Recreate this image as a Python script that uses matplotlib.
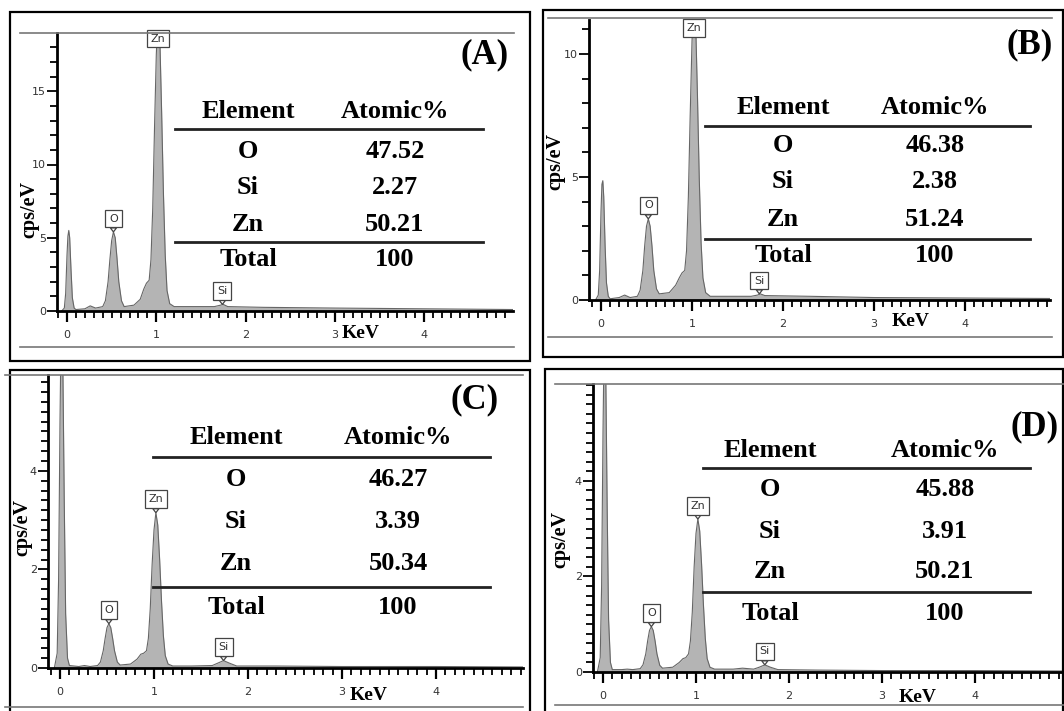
import numpy as np
import matplotlib
matplotlib.use('Agg')
import matplotlib.pyplot as plt
from matplotlib.patches import Rectangle
from matplotlib.lines import Line2D
from matplotlib.ticker import MultipleLocator, FixedLocator

W, H = 1064, 711

# spectra (keV, cps/eV)
a_kev = [-0.06, -0.03, -0.015, 0.0, 0.01, 0.02, 0.03, 0.045, 0.06, 0.08, 0.1, 0.2, 0.26, 0.32, 0.4,
         0.43, 0.46, 0.48, 0.5, 0.52, 0.54, 0.56, 0.58, 0.61, 0.64, 0.75, 0.82, 0.86, 0.89, 0.92,
         0.94, 0.96, 0.98, 1.0, 1.02, 1.04, 1.06, 1.08, 1.1, 1.12, 1.15, 1.2, 1.4, 1.65, 1.72, 1.75,
         1.8, 2.2, 3.0, 4.0, 5.0]
a_cps = [0, 0.2, 1.2, 3.8, 5.1, 5.5, 5.0, 2.8, 0.9, 0.2, 0.1, 0.15, 0.35, 0.2, 0.3,
         0.7, 2.0, 3.5, 4.8, 5.4, 5.0, 3.6, 2.0, 0.7, 0.3, 0.4, 0.8, 1.5, 1.9, 2.1,
         3.5, 7.0, 12.5, 17.5, 20.5, 18.5, 13.5, 8.0, 3.8, 1.4, 0.5, 0.3, 0.3, 0.3, 0.4, 0.45,
         0.3, 0.25, 0.2, 0.15, 0.1]

b_kev = [-0.06, -0.03, -0.015, 0.0, 0.01, 0.02, 0.03, 0.045, 0.06, 0.08, 0.1, 0.2, 0.26, 0.32, 0.4,
         0.43, 0.46, 0.48, 0.5, 0.52, 0.54, 0.56, 0.58, 0.61, 0.64, 0.75, 0.82, 0.86, 0.89, 0.92,
         0.94, 0.96, 0.98, 1.0, 1.02, 1.04, 1.06, 1.08, 1.1, 1.12, 1.15, 1.2, 1.4, 1.65, 1.72, 1.75,
         1.8, 2.3, 3.0, 4.0, 5.0]
b_cps = [0, 0.2, 1.2, 3.6, 4.7, 4.85, 4.2, 2.2, 0.7, 0.15, 0.05, 0.1, 0.2, 0.1, 0.15,
         0.4, 1.2, 2.2, 3.0, 3.3, 3.0, 2.2, 1.2, 0.45, 0.25, 0.3, 0.6, 0.9, 1.1, 1.2,
         2.0, 4.2, 7.5, 10.5, 12.5, 11.3, 8.3, 4.9, 2.3, 0.9, 0.3, 0.15, 0.15, 0.15, 0.2, 0.25,
         0.18, 0.15, 0.1, 0.08, 0.06]

c_kev = [-0.06, -0.03, -0.015, 0.0, 0.01, 0.02, 0.03, 0.045, 0.06, 0.08, 0.1, 0.2, 0.26, 0.32, 0.4,
         0.43, 0.46, 0.48, 0.5, 0.52, 0.54, 0.56, 0.58, 0.61, 0.64, 0.75, 0.82, 0.86, 0.89, 0.92,
         0.94, 0.96, 0.98, 1.0, 1.02, 1.04, 1.06, 1.08, 1.1, 1.12, 1.15, 1.2, 1.4, 1.62, 1.68, 1.74,
         1.8, 1.88, 2.3, 3.0, 4.0, 5.0]
c_cps = [0, 0.3, 1.8, 5.0, 6.6, 7.0, 6.2, 3.4, 1.1, 0.2, 0.05, 0.03, 0.05, 0.03, 0.05,
         0.12, 0.35, 0.6, 0.82, 0.9, 0.82, 0.6, 0.35, 0.12, 0.06, 0.08, 0.18, 0.28, 0.3, 0.35,
         0.6, 1.2, 2.1, 2.8, 3.15, 2.9, 2.2, 1.35, 0.65, 0.25, 0.08, 0.04, 0.04, 0.05, 0.1, 0.15,
         0.1, 0.04, 0.04, 0.03, 0.03, 0.02]

d_kev = [-0.06, -0.03, -0.015, 0.0, 0.01, 0.02, 0.03, 0.045, 0.06, 0.08, 0.1, 0.2, 0.26, 0.32, 0.4,
         0.43, 0.46, 0.48, 0.5, 0.52, 0.54, 0.56, 0.58, 0.61, 0.64, 0.75, 0.82, 0.86, 0.89, 0.92,
         0.94, 0.96, 0.98, 1.0, 1.02, 1.04, 1.06, 1.08, 1.1, 1.12, 1.15, 1.2, 1.4, 1.5, 1.62, 1.68,
         1.74, 1.8, 1.88, 2.3, 3.0, 4.0, 5.0]
d_cps = [0, 0.3, 1.8, 5.0, 6.6, 7.0, 6.2, 3.4, 1.1, 0.2, 0.05, 0.05, 0.06, 0.05, 0.07,
         0.15, 0.38, 0.65, 0.87, 0.95, 0.87, 0.65, 0.38, 0.14, 0.08, 0.1, 0.2, 0.28, 0.3, 0.38,
         0.65, 1.25, 2.2, 2.9, 3.2, 2.95, 2.25, 1.4, 0.7, 0.28, 0.1, 0.06, 0.06, 0.08, 0.06, 0.1,
         0.15, 0.1, 0.05, 0.04, 0.03, 0.03, 0.02]

# y tick values with labels
a_yticks = [0, 5, 10, 15]
b_yticks = [0, 5, 10]
c_yticks = [0, 2, 4]
d_yticks = [0, 2, 4]

# quantification tables
elements = ['O', 'Si', 'Zn']
a_atomic = ['47.52', '2.27', '50.21']
b_atomic = ['46.38', '2.38', '51.24']
c_atomic = ['46.27', '3.39', '50.34']
d_atomic = ['45.88', '3.91', '50.21']
total = '100'

# peak labels: (name, keV, height of tip)
a_marks = [('O', 0.52, 5.4), ('Si', 1.74, 0.45)]
b_marks = [('O', 0.52, 3.3), ('Si', 1.74, 0.25)]
c_marks = [('O', 0.52, 0.9), ('Zn', 1.02, 3.15), ('Si', 1.74, 0.15)]
d_marks = [('O', 0.52, 0.95), ('Zn', 1.02, 3.2), ('Si', 1.74, 0.15)]


def fx(x):
    return x / W


def fy(y):
    return 1 - y / H


fig = plt.figure(figsize=(10.64, 7.11), dpi=100)
fig.patch.set_facecolor('white')

serif = 'Liberation Serif'


def panel(box, ax_px, x0, ppk, ppu, kev, cps, yticks, yminor, marks, zn_top, atomic, tab, tag, ylab, kev_lab):
    bx0, by0, bx1, by1 = box
    fig.add_artist(Rectangle((fx(bx0), fy(by1)), fx(bx1 - bx0), (by1 - by0) / H,
                             fill=False, ec='black', lw=1.6, transform=fig.transFigure))
    left, top, right, bottom = ax_px
    gl0, gl1, gtop, gbot = tab['glines']
    for yy in (gtop, gbot):
        fig.add_artist(Line2D([fx(gl0), fx(gl1)], [fy(yy), fy(yy)], color='#777777', lw=1.2,
                              transform=fig.transFigure))
    ax = fig.add_axes([fx(left), fy(bottom), fx(right - left), (bottom - top) / H])
    ax.set_xlim((left - x0) / ppk, (right - x0) / ppk)
    ax.set_ylim(0, (bottom - top) / ppu)
    ax.fill_between(kev, cps, color='#b4b4b4', lw=0)
    ax.plot(kev, cps, color='#666666', lw=0.8)
    for s in ('top', 'right'):
        ax.spines[s].set_visible(False)
    for s in ('left', 'bottom'):
        ax.spines[s].set_linewidth(2.0)
    ax.patch.set_alpha(0)
    ax.xaxis.set_major_locator(MultipleLocator(1))
    ax.xaxis.set_minor_locator(MultipleLocator(0.1))
    ax.yaxis.set_major_locator(FixedLocator(yticks))
    ax.yaxis.set_minor_locator(MultipleLocator(yminor))
    ax.tick_params(axis='x', which='major', direction='out', length=8, width=1.6, pad=6,
                   labelsize=8, labelcolor='#333333')
    ax.tick_params(axis='x', which='minor', direction='out', length=5, width=1.3)
    ax.tick_params(axis='y', which='major', direction='out', length=7, width=1.3, pad=1,
                   labelsize=8, labelcolor='#333333')
    ax.tick_params(axis='y', which='minor', direction='out', length=5, width=1.3)
    for lab in ax.get_xticklabels() + ax.get_yticklabels():
        lab.set_fontfamily('DejaVu Sans')

    for name, xk, tip in marks:
        ax.annotate(name, xy=(xk, tip), xytext=(0, 6), textcoords='offset points',
                    ha='center', va='bottom', fontsize=8, color='#333333',
                    bbox=dict(boxstyle='square,pad=0.35', fc='white', ec='#444444', lw=0.9),
                    arrowprops=dict(arrowstyle='wedge,tail_width=0.55,shrink_factor=0.5',
                                    fc='white', ec='#444444', lw=0.9, shrinkA=0, shrinkB=0),
                    annotation_clip=False)
    if zn_top is not None:
        ax.text(1.02, zn_top, 'Zn', ha='center', va='center', fontsize=8, color='#333333',
                bbox=dict(boxstyle='square,pad=0.35', fc='white', ec='#444444', lw=0.9))

    # table
    c1, c2 = tab['cols']
    l0, l1 = tab['line_x']
    yh, yl1, rows, yl2, ytot = tab['ys']
    fs = 19
    fig.text(fx(c1), fy(yh), 'Element', ha='center', va='center', family=serif,
             weight='bold', fontsize=fs)
    fig.text(fx(c2), fy(yh), 'Atomic%', ha='center', va='center', family=serif,
             weight='bold', fontsize=fs)
    for yy in (yl1, yl2):
        fig.add_artist(Line2D([fx(l0), fx(l1)], [fy(yy), fy(yy)], color='#222222', lw=2.0,
                              transform=fig.transFigure))
    for el, val, yy in zip(elements, atomic, rows):
        fig.text(fx(c1), fy(yy), el, ha='center', va='center', family=serif,
                 weight='bold', fontsize=fs)
        fig.text(fx(c2), fy(yy), val, ha='center', va='center', family=serif,
                 weight='bold', fontsize=fs)
    fig.text(fx(c1), fy(ytot), 'Total', ha='center', va='center', family=serif,
             weight='bold', fontsize=fs)
    fig.text(fx(c2), fy(ytot), total, ha='center', va='center', family=serif,
             weight='bold', fontsize=fs)

    fig.text(fx(tag[1]), fy(tag[2]), tag[0], ha='center', va='center', family=serif,
             weight='bold', fontsize=25)
    fig.text(fx(ylab[0]), fy(ylab[1]), 'cps/eV', ha='center', va='center', family=serif,
             weight='bold', fontsize=14.5, rotation=90)
    fig.text(fx(kev_lab[0]), fy(kev_lab[1]), 'KeV', ha='center', va='center', family=serif,
             weight='bold', fontsize=14)
    return ax


panel((10, 12, 530, 361), (57, 33, 513, 311), 67, 89.3, 14.65, a_kev, a_cps, a_yticks, 1, a_marks, 18.6,
      a_atomic,
      dict(glines=(20, 514, 33, 347), cols=(248, 395), line_x=(175, 483),
           ys=(112, 129, (151, 187, 224), 242, 260)),
      ('(A)', 485, 55), (29, 210), (361, 333))

panel((543, 10, 1063, 357), (589, 20, 1050, 300), 601, 91.0, 24.6, b_kev, b_cps, b_yticks, 1, b_marks, 11.05,
      b_atomic,
      dict(glines=(548, 1052, 18, 337), cols=(783, 935), line_x=(705, 1030),
           ys=(107, 126, (146, 182, 219), 239, 256)),
      ('(B)', 1030, 45), (555, 162), (911, 322))

panel((10, 370, 530, 716), (48, 375, 523, 668), 60, 94.0, 49.3, c_kev, c_cps, c_yticks, 0.2, c_marks, None,
      c_atomic,
      dict(glines=(5, 523, 375, 707), cols=(236, 398), line_x=(153, 490),
           ys=(437, 457, (480, 521, 563), 587, 607)),
      ('(C)', 475, 400), (22, 528), (369, 695))

panel((545, 369, 1063, 716), (593, 384, 1064, 672), 603, 93.0, 47.8, d_kev, d_cps, d_yticks, 0.2, d_marks, None,
      d_atomic,
      dict(glines=(555, 1064, 384, 705), cols=(770, 945), line_x=(703, 1030),
           ys=(450, 468, (490, 531, 572), 592, 613)),
      ('(D)', 1035, 427), (560, 540), (918, 697))

fig.savefig('out.png', dpi=100)
